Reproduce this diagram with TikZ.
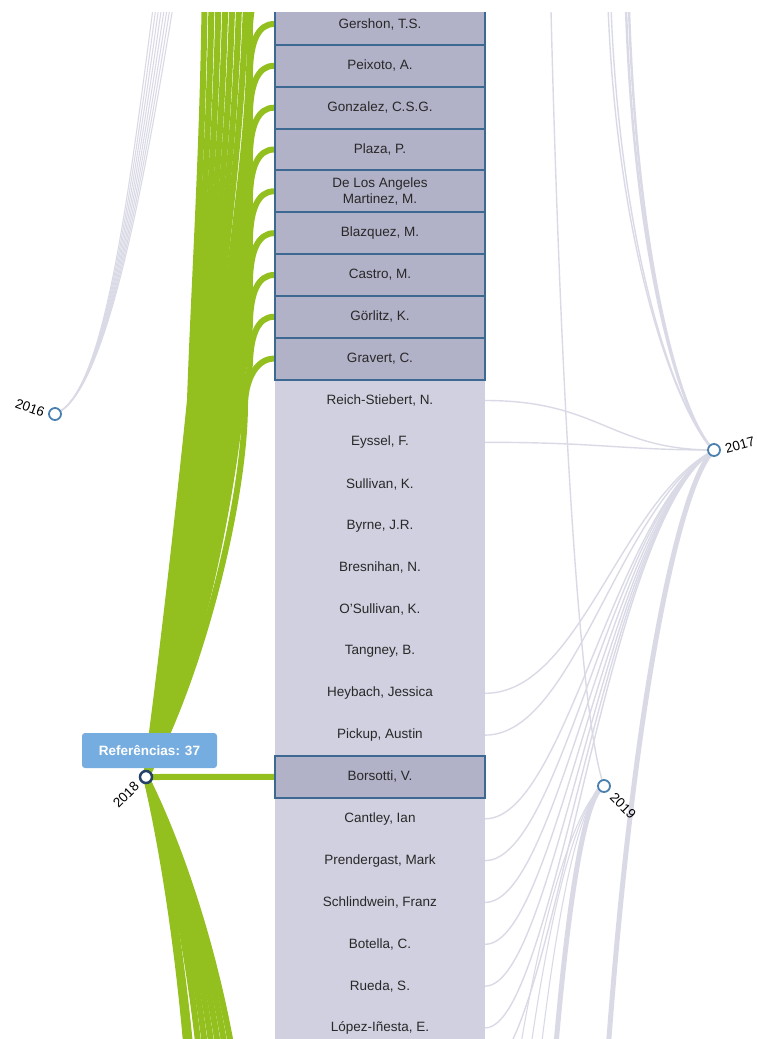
\documentclass[tikz,border=0pt]{standalone}
\usepackage{fontspec}
\setmainfont{Liberation Sans}
\definecolor{gr}{RGB}{147,192,31}
\definecolor{colbgc}{RGB}{208,208,224}
\definecolor{hifill}{RGB}{177,177,200}
\definecolor{hiborder}{RGB}{60,104,145}
\definecolor{glinkc}{RGB}{218,218,230}
\definecolor{ybl}{RGB}{74,128,176}
\definecolor{ydark}{RGB}{36,66,104}
\definecolor{tipc}{RGB}{118,173,224}
\definecolor{txt}{RGB}{40,40,40}
\pgfdeclarelayer{links}
\pgfdeclarelayer{colbg}
\pgfsetlayers{links,colbg,main}
% link from 2018 up to a visible row: #1 target, #2 row centre y, #3 x at y=400, #4 initial dx
\newcommand\greenvis[4]{%
  \pgfmathsetmacro\gYb{#2+45}%
  \pgfmathsetmacro\gDd{400-\gYb}%
  \draw[glink] (y2018.center) .. controls ({146+#4},677) and ({#3-10},500) .. (#3,400)
    .. controls ({#3+0.033*\gDd},{400-0.33*\gDd}) and (250,{\gYb+0.33*\gDd}) .. (250,\gYb)
    .. controls (251,{#2+18}) and (258,#2) .. (#1);%
}
% link from 2018 up to a row above the view: #1 end coordinate, #2 x at y=400, #3 initial dx, #4 x at top
\newcommand\greenhigh[4]{%
  \coordinate (#1) at (#4,-60);%
  \draw[glink] (y2018.center) .. controls ({146+#3},677) and ({#2-10},500) .. (#2,400)
    .. controls ({#2+0.3*(#4-#2)},270) and (#4,120) .. (#1);%
}
% link from 2018 down to a row below the view: #1 end coordinate, #2 x at y=1080
\newcommand\greenlow[2]{%
  \coordinate (#1) at (#2,1080);%
  \draw[glink] (y2018.center) .. controls ({146+0.4*(#2-146)},850) and ({146+0.8*(#2-146)},960) .. (#1);%
}
\begin{document}
\begin{tikzpicture}[x=1pt,y=-1pt,
  lbl/.style={font=\fontsize{13.5}{15.5}\selectfont, text=txt},
  lrow/.style={lbl, minimum width=210pt, minimum height=41.83pt, inner sep=0pt, align=center},
  hrow/.style={lrow, fill=hifill, draw=hiborder, line width=2pt},
  glink/.style={draw=gr, line width=6pt},
  graylink/.style={draw=glinkc, line width=1.4pt},
  thickgray/.style={draw=glinkc, line width=5pt},
  yearnode/.style={circle, draw=ybl, line width=1.8pt, fill=white, minimum size=12pt, inner sep=0pt},
  yearlbl/.style={lbl, text=black, inner sep=0pt},
  tipbox/.style={fill=tipc, rounded corners=3pt, minimum width=135pt, minimum height=35pt, inner sep=0pt, text=white, font=\bfseries\fontsize{13.5}{15.5}\selectfont}
]
\useasboundingbox (0,0) rectangle (756,1039);

\begin{scope}
\clip (0,12) rectangle (756,1039);
% light rows (text only, the column background is on its own layer)
\node[lrow] (r9)  at (380,400.5)  {Reich-Stiebert, N.};
\node[lrow] (r10) at (380,442.3)  {Eyssel, F.};
\node[lrow] (r11) at (380,484.1)  {Sullivan, K.};
\node[lrow] (r12) at (380,526.0)  {Byrne, J.R.};
\node[lrow] (r13) at (380,567.8)  {Bresnihan, N.};
\node[lrow] (r14) at (380,609.6)  {O'Sullivan, K.};
\node[lrow] (r15) at (380,651.5)  {Tangney, B.};
\node[lrow] (r16) at (380,693.3)  {Heybach, Jessica};
\node[lrow] (r17) at (380,735.1)  {Pickup, Austin};
\node[lrow] (r19) at (380,818.8)  {Cantley, Ian};
\node[lrow] (r20) at (380,860.6)  {Prendergast, Mark};
\node[lrow] (r21) at (380,902.4)  {Schlindwein, Franz};
\node[lrow] (r22) at (380,944.3)  {Botella, C.};
\node[lrow] (r23) at (380,986.1)  {Rueda, S.};
\node[lrow] (r24) at (380,1027.9) {López-Iñesta, E.};
% highlighted rows
\node[hrow] (r0) at (380,24.0)  {Gershon, T.S.};
\node[hrow] (r1) at (380,65.8)  {Peixoto, A.};
\node[hrow] (r2) at (380,107.7) {Gonzalez, C.S.G.};
\node[hrow] (r3) at (380,149.5) {Plaza, P.};
\node[hrow] (r4) at (380,191.3) {De Los Angeles\\Martinez, M.};
\node[hrow] (r5) at (380,233.2) {Blazquez, M.};
\node[hrow] (r6) at (380,275.0) {Castro, M.};
\node[hrow] (r7) at (380,316.8) {Görlitz, K.};
\node[hrow] (r8) at (380,358.6) {Gravert, C.};
\node[hrow] (r18) at (380,776.9) {Borsotti, V.};

% year nodes
\node[yearnode] (y2016) at (55,414) {};
\node[yearnode] (y2017) at (714,450) {};
\node[yearnode, draw=ydark, line width=2.5pt] (y2018) at (146,777) {};
\node[yearnode] (y2019) at (604,786) {};
\node[yearlbl, rotate=-20] (l2016) at (30,408) {2016};
\node[yearlbl, rotate=15] (l2017) at (740,445) {2017};
\node[yearlbl, rotate=45] (l2018) at (126,795) {2018};
\node[yearlbl, rotate=-45] (l2019) at (623,806) {2019};

% tooltip
\node[tipbox] (tip) at (149.5,750.5) {Referências: 37};
\end{scope}

% column background
\begin{pgfonlayer}{colbg}
\fill[colbgc] (275,12) rectangle (485,1039);
\end{pgfonlayer}

% links
\begin{pgfonlayer}{links}
\begin{scope}
\clip (0,12) rectangle (756,1039);
% grey links of 2016
\foreach \xt/\cx in {158/128,161/130,164/132,167/134,170/136,173/138,176/140,179/142} {
  \coordinate (t16) at (\xt,-30);
  \draw[graylink, line width=1.1pt] (y2016.center) .. controls (105,395) and (\cx,200) .. (t16);
}
% grey links of 2017 from above
\foreach \xt/\w in {607/1.4,610/1.4,625/2.4,628/2.4} {
  \coordinate (t17) at (\xt,-30);
  \draw[graylink, line width=\w pt] (t17) .. controls ({\xt+5},250) and (680,420) .. (y2017.center);
}
% grey links of 2017 to rows
\draw[graylink] (r9.east) .. controls (600,400.5) and (610,450) .. (y2017.center);
\draw[graylink] (r10.east) .. controls (600,442.3) and (620,450) .. (y2017.center);
\draw[graylink] (r16.east) .. controls (580,693.3) and (620,500) .. (y2017.center);
\draw[graylink] (r17.east) .. controls (575,735.1) and (618,505) .. (y2017.center);
\draw[graylink] (r19.east) .. controls (565,818.8) and (615,510) .. (y2017.center);
\draw[graylink] (r20.east) .. controls (562,860.6) and (612,512) .. (y2017.center);
\draw[graylink] (r21.east) .. controls (560,902.4) and (610,515) .. (y2017.center);
\draw[graylink] (r22.east) .. controls (558,944.3) and (608,518) .. (y2017.center);
\draw[graylink] (r23.east) .. controls (556,986.1) and (606,520) .. (y2017.center);
\draw[graylink] (r24.east) .. controls (554,1027.9) and (604,522) .. (y2017.center);
\coordinate (c17) at (485,1069.7);
\draw[graylink] (c17) .. controls (552,1069.7) and (602,524) .. (y2017.center);
\coordinate (d17) at (606,1080);
\draw[thickgray] (y2017.center) .. controls (680,480) and (632,700) .. (d17);
% grey links of 2019
\coordinate (t19) at (550,-30);
\draw[graylink] (t19) .. controls (560,400) and (580,720) .. (y2019.center);
\foreach \xb/\cx in {516/546,527/553,538/560} {
  \coordinate (d19) at (\xb,1075);
  \draw[graylink, line width=1.1pt] (y2019.center) .. controls (584,795) and (\cx,880) .. (d19);
}
\coordinate (e19) at (553,1080);
\draw[thickgray] (y2019.center) .. controls (588,792) and (570,870) .. (e19);

% green links of 2018
\greenhigh{a8}{190.0}{14.0}{205}
\greenhigh{a7}{193.4}{16.6}{212}
\greenhigh{a6}{196.9}{19.1}{219}
\greenhigh{a5}{200.3}{21.7}{226}
\greenhigh{a4}{203.8}{24.3}{233}
\greenhigh{a3}{207.2}{26.8}{240}
\greenhigh{a2}{210.6}{29.4}{247}
\coordinate (a1) at (275,-17.8);
\greenvis{a1}{-17.8}{214.1}{31.9}
\greenvis{r0}{24.0}{217.5}{34.5}
\greenvis{r1}{65.8}{220.9}{37.1}
\greenvis{r2}{107.7}{224.4}{39.6}
\greenvis{r3}{149.5}{227.8}{42.2}
\greenvis{r4}{191.3}{231.3}{44.8}
\greenvis{r5}{233.2}{234.7}{47.3}
\greenvis{r6}{275.0}{238.1}{49.9}
\greenvis{r7}{316.8}{241.6}{52.4}
\draw[glink] (y2018.center) .. controls (201,677) and (245,500) .. (245,403.6) .. controls (246,376.6) and (258,358.6) .. (r8.west);
\greenlow{b1}{189}
\greenlow{b2}{193}
\greenlow{b3}{202}
\greenlow{b4}{209}
\greenlow{b5}{216}
\greenlow{b6}{223}
\greenlow{b7}{230}
\greenlow{b8}{237}
\draw[glink, line width=6pt] (y2018.center) -- (r18.west);
\end{scope}
\end{pgfonlayer}
\end{tikzpicture}
\end{document}
